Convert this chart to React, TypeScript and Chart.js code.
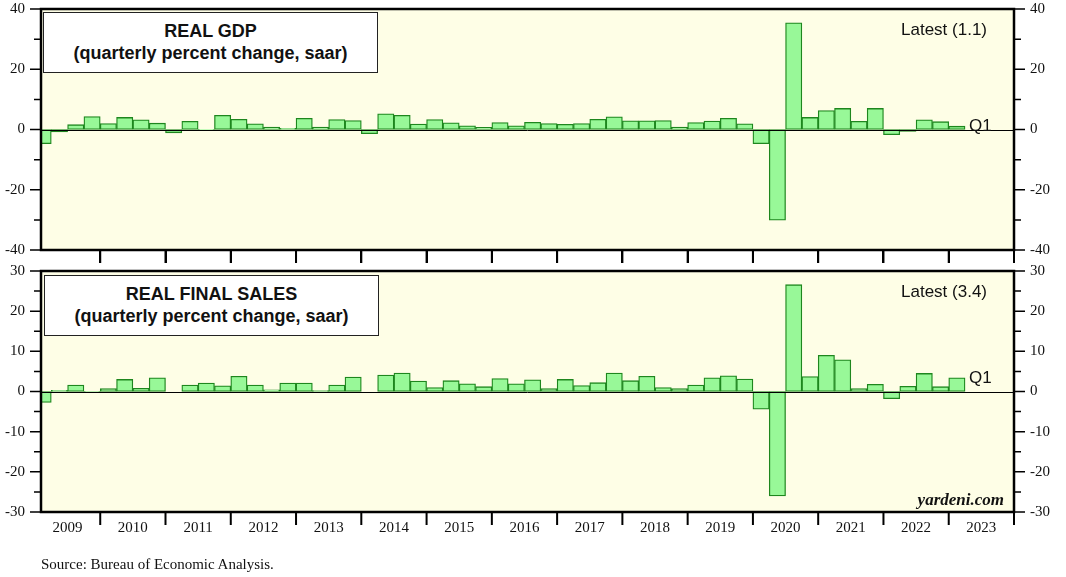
import React, { useEffect, useRef, useState } from "react";
import { Chart, registerables } from "chart.js";
Chart.register(...registerables);

// ---------- data ----------
const years = ["2009", "2010", "2011", "2012", "2013", "2014", "2015", "2016", "2017", "2018", "2019", "2020", "2021", "2022", "2023"];
const quarters = years.flatMap((y) => ["Q1", "Q2", "Q3", "Q4"].map((q) => `${y}${q}`)).slice(0, 57);

const gdp = [
  -4.7, -0.8, 1.6, 4.3,
  2.0, 4.0, 3.2, 2.1,
  -1.1, 2.7, -0.1, 4.7,
  3.4, 1.9, 0.8, 0.4,
  3.7, 0.8, 3.3, 3.0,
  -1.4, 5.2, 4.7, 1.8,
  3.3, 2.2, 1.2, 0.7,
  2.3, 1.2, 2.4, 2.0,
  1.7, 2.0, 3.4, 4.2,
  2.9, 2.9, 3.0, 0.8,
  2.3, 2.8, 3.7, 1.9,
  -4.7, -30.1, 35.4, 4.0,
  6.3, 7.0, 2.7, 7.0,
  -1.7, -0.6, 3.2, 2.6,
  1.1,
];

const finalSales = [
  -2.7, 0.3, 1.6, -0.2,
  0.7, 3.0, 0.8, 3.4,
  0.0, 1.6, 2.1, 1.4,
  3.8, 1.6, 0.4, 2.1,
  2.1, 0.25, 1.6, 3.6,
  0.0, 4.1, 4.6, 2.6,
  1.0, 2.7, 1.9, 1.2,
  3.2, 1.9, 2.9, 0.7,
  3.0, 1.5, 2.2, 4.6,
  2.7, 3.8, 1.0, 0.7,
  1.6, 3.4, 3.9, 3.1,
  -4.4, -26.0, 26.6, 3.7,
  9.0, 7.9, 0.7, 1.8,
  -1.8, 1.3, 4.5, 1.2,
  3.4,
];

const gdpRange = [-40, 40];
const gdpLabelStep = 20;
const gdpTickStep = 10;
const salesRange = [-30, 30];
const salesLabelStep = 10;
const salesTickStep = 5;

const gdpTitle = ["REAL GDP", "(quarterly percent change, saar)"];
const salesTitle = ["REAL FINAL SALES", "(quarterly percent change, saar)"];
const gdpLatest = "Latest (1.1)";
const salesLatest = "Latest (3.4)";
const lastQuarterLabel = "Q1";
const sourceText = "Source: Bureau of Economic Analysis.";
const brandText = "yardeni.com";

// ---------- styles ----------
const BG = "#FEFEE6";
const BAR_FILL = "#98F898";
const BAR_BORDER = "#1E861E";
const SERIF = "'Liberation Serif', 'Times New Roman', serif";
const SANS = "'Liberation Sans', Arial, sans-serif";
const W = 1066;
const PLOT_LEFT = 41;
const PLOT_RIGHT = 1014;
const TOP_PLOT_BOTTOM = 250;

const panelPlugin = {
  id: "panel",
  beforeDraw(chart: any) {
    const { ctx, chartArea: a } = chart;
    ctx.save();
    ctx.fillStyle = BG;
    ctx.fillRect(a.left, a.top, a.right - a.left, a.bottom - a.top);
    ctx.restore();
  },
  afterDraw(chart: any, _args: any, opts: any) {
    const { ctx, chartArea: a } = chart;
    const xs = chart.scales.x;
    const ys = chart.scales.y;
    ctx.save();
    // zero line
    const y0 = Math.round(ys.getPixelForValue(0)) + 0.5;
    ctx.strokeStyle = "#000";
    ctx.lineWidth = 1;
    ctx.beginPath();
    ctx.moveTo(a.left, y0);
    ctx.lineTo(a.right, y0);
    ctx.stroke();

    // y tick marks (left & right)
    ctx.lineWidth = 1.5;
    for (let v = opts.min; v <= opts.max + 1e-9; v += opts.tickStep) {
      const py = ys.getPixelForValue(v);
      const major = Math.abs(v % opts.labelStep) < 1e-9;
      const len = major ? 11 : 7;
      ctx.beginPath();
      ctx.moveTo(a.left - len, py);
      ctx.lineTo(a.left, py);
      ctx.moveTo(a.right, py);
      ctx.lineTo(a.right + len, py);
      ctx.stroke();
    }

    // x tick marks at year boundaries
    ctx.fillStyle = "#000";
    for (let i = 1; i <= years.length; i++) {
      const px = xs.getPixelForValue(i * 4);
      ctx.fillRect(px - 1, a.bottom, 2, 13);
    }

    // frame
    ctx.lineWidth = 2.5;
    ctx.strokeRect(a.left, a.top, a.right - a.left, a.bottom - a.top);

    // Latest text
    ctx.fillStyle = "#111";
    ctx.font = `17px ${SANS}`;
    ctx.textAlign = "right";
    ctx.textBaseline = "middle";
    ctx.fillText(opts.latest, a.right - 27, a.top + 21);

    // last quarter label next to last bar
    const n = opts.values.length;
    const lx = xs.getPixelForValue(n) + 4;
    const ly = ys.getPixelForValue(opts.values[n - 1]);
    ctx.textAlign = "left";
    ctx.fillText(lastQuarterLabel, lx, ly);

    if (opts.brand) {
      ctx.font = `italic bold 17px ${SERIF}`;
      ctx.textAlign = "right";
      ctx.fillText(brandText, a.right - 10, a.bottom - 11);
    }
    ctx.restore();
  },
};

type PanelProps = {
  values: number[];
  range: number[];
  labelStep: number;
  tickStep: number;
  latest: string;
  top: number;
  height: number;
  plotTop: number;
  plotBottom: number;
  showYears: boolean;
  brand: boolean;
  onYearTicks?: (xs: number[]) => void;
};

function Panel(p: PanelProps) {
  const ref = useRef<HTMLCanvasElement | null>(null);
  useEffect(() => {
    if (!ref.current) return;
    const padTop = p.plotTop - p.top;
    const bottomSpace = p.top + p.height - p.plotBottom;
    const yTicks = (scale: any) => {
      const t: any[] = [];
      for (let v = p.range[0]; v <= p.range[1]; v += p.labelStep) t.push({ value: v });
      scale.ticks = t;
    };
    const yCommon = {
      type: "linear" as const,
      min: p.range[0],
      max: p.range[1],
      grid: { display: false, drawTicks: false },
      border: { display: false },
      afterBuildTicks: yTicks,
    };
    const chart = new Chart(ref.current, {
      type: "bar",
      data: {
        labels: quarters,
        datasets: [
          {
            data: p.values.map((v, i) => ({ x: i + 0.5, y: v })),
            backgroundColor: BAR_FILL,
            borderColor: BAR_BORDER,
            borderWidth: 1.3,
            borderSkipped: false,
            barPercentage: 1,
            categoryPercentage: 1,
            yAxisID: "y",
            xAxisID: "x",
          } as any,
        ],
      },
      options: {
        animation: false,
        responsive: false,
        maintainAspectRatio: false,
        layout: { padding: { top: padTop, bottom: 0, left: 0, right: 0 } },
        plugins: {
          legend: { display: false },
          tooltip: { enabled: false },
          panel: {
            min: p.range[0],
            max: p.range[1],
            labelStep: p.labelStep,
            tickStep: p.tickStep,
            latest: p.latest,
            values: p.values,
            brand: p.brand,
          },
        } as any,
        scales: {
          x: {
            type: "linear",
            offset: false,
            min: 0.37,
            max: years.length * 4,
            grid: { display: false, drawTicks: false, offset: false },
            border: { display: false },
            afterBuildTicks: (scale: any) => {
              scale.ticks = years.map((_, i) => ({ value: i * 4 + 2 }));
            },
            afterFit: (scale: any) => {
              scale.height = bottomSpace;
              scale.paddingLeft = 0;
              scale.paddingRight = 0;
            },
            ticks: {
              display: p.showYears,
              autoSkip: false,
              maxRotation: 0,
              padding: 7,
              color: "#111",
              font: { family: SERIF, size: 15 },
              callback: (_v: any, i: number) => years[i],
            },
          },
          y: {
            ...yCommon,
            position: "left",
            afterFit: (scale: any) => {
              scale.width = PLOT_LEFT;
              scale.paddingTop = 0;
              scale.paddingBottom = 0;
            },
            ticks: {
              padding: 16,
              color: "#111",
              font: { family: SERIF, size: 15 },
              callback: (v: any) => String(v),
            },
          },
          y2: {
            ...yCommon,
            position: "right",
            afterFit: (scale: any) => {
              scale.width = W - PLOT_RIGHT;
              scale.paddingTop = 0;
              scale.paddingBottom = 0;
            },
            ticks: {
              padding: 16,
              color: "#111",
              font: { family: SERIF, size: 15 },
              callback: (v: any) => String(v),
            },
          },
        } as any,
      },
      plugins: [panelPlugin as any],
    });
    if (p.onYearTicks) {
      const xs = chart.scales.x;
      p.onYearTicks(years.map((_, i) => xs.getPixelForValue((i + 1) * 4)));
    }
    return () => chart.destroy();
  }, []);
  return (
    <canvas
      ref={ref}
      width={W}
      height={p.height}
      style={{ position: "absolute", left: 0, top: p.top, width: W, height: p.height }}
    />
  );
}

function TitleBox({ lines, left, top }: { lines: string[]; left: number; top: number }) {
  return (
    <div
      style={{
        position: "absolute",
        left,
        top,
        width: 335,
        height: 61,
        boxSizing: "border-box",
        border: "1.5px solid #222",
        background: "#fff",
        textAlign: "center",
        fontFamily: SANS,
        fontWeight: "bold",
        fontSize: 18,
        lineHeight: "22px",
        paddingTop: 7,
        color: "#111",
      }}
    >
      {lines.map((l) => (
        <div key={l}>{l}</div>
      ))}
    </div>
  );
}

export default function App() {
  const [gapTicks, setGapTicks] = useState<number[]>([]);
  return (
    <div style={{ position: "fixed", left: 0, top: 0, width: W, height: 577, background: "#fff", overflow: "hidden" }}>
      <Panel
        values={gdp}
        range={gdpRange}
        labelStep={gdpLabelStep}
        tickStep={gdpTickStep}
        latest={gdpLatest}
        top={0}
        height={266}
        plotTop={9}
        plotBottom={TOP_PLOT_BOTTOM}
        showYears={false}
        brand={false}
        onYearTicks={setGapTicks}
      />
      <Panel
        values={finalSales}
        range={salesRange}
        labelStep={salesLabelStep}
        tickStep={salesTickStep}
        latest={salesLatest}
        top={240}
        height={337}
        plotTop={271}
        plotBottom={512}
        showYears={true}
        brand={true}
      />
      {gapTicks.map((x, i) => (
        <div
          key={i}
          style={{
            position: "absolute",
            left: x - 1,
            top: TOP_PLOT_BOTTOM,
            width: 2,
            height: 13,
            background: "#000",
            zIndex: 5,
          }}
        />
      ))}
      <TitleBox lines={gdpTitle} left={43} top={12} />
      <TitleBox lines={salesTitle} left={44} top={275} />
      <div
        style={{
          position: "absolute",
          left: 41,
          top: 555,
          fontFamily: SERIF,
          fontSize: 15,
          lineHeight: "18px",
          color: "#111",
        }}
      >
        {sourceText}
      </div>
    </div>
  );
}
